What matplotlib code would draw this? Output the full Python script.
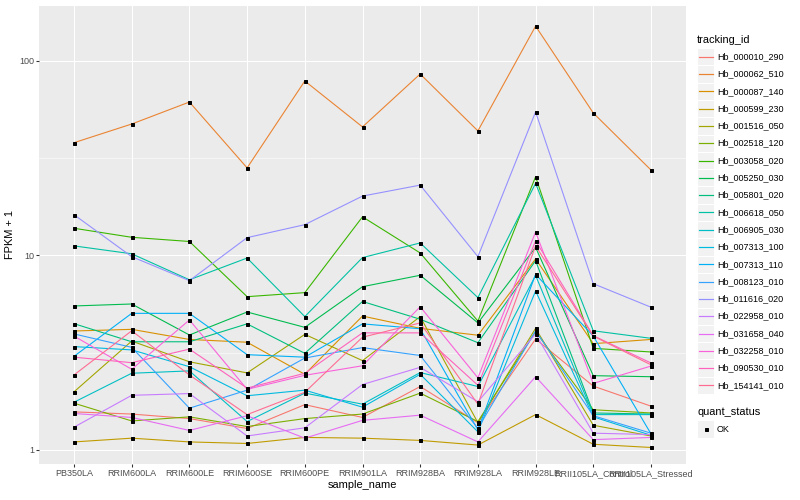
import matplotlib
matplotlib.use("Agg")
import matplotlib.pyplot as plt
from matplotlib.patches import Rectangle
from matplotlib.lines import Line2D
from matplotlib.ticker import FixedLocator, NullFormatter

plt.rcParams['font.family'] = ['Liberation Sans', 'DejaVu Sans']

samples = ["PB350LA", "RRIM600LA", "RRIM600LE", "RRIM600SE", "RRIM600PE", "RRIM901LA",
           "RRIM928BA", "RRIM928LA", "RRIM928LE", "RRII105LA_Control", "RRII105LA_Stressed"]

tracking_ids = ["Hb_000010_290", "Hb_000062_510", "Hb_000087_140", "Hb_000599_230",
                "Hb_001516_050", "Hb_002518_120", "Hb_003058_020", "Hb_005250_030",
                "Hb_005801_020", "Hb_006618_050", "Hb_006905_030", "Hb_007313_100",
                "Hb_007313_110", "Hb_008123_010", "Hb_011616_020", "Hb_022958_010",
                "Hb_031658_040", "Hb_032258_010", "Hb_090530_010", "Hb_154141_010"]

# ggplot hue palette, 20 levels
colors = ["#F8766D", "#EA8331", "#D89000", "#C09B00", "#A3A500", "#7CAE00", "#39B600",
          "#00BB4E", "#00BF7D", "#00C1A3", "#00BFC4", "#00BAE0", "#00B0F6", "#35A2FF",
          "#9590FF", "#C77CFF", "#E76BF3", "#FA62DB", "#FF62BC", "#FF6C91"]

# FPKM + 1 (order = samples)
hb_000010_290 = [1.57, 1.53, 1.45, 1.29, 1.71, 1.47, 2.12, 1.38, 3.72, 2.13, 1.68]
hb_000062_510 = [38, 47.4, 61.5, 28.2, 78.9, 45.8, 85.7, 43.7, 151, 54, 27.5]
hb_000087_140 = [4.09, 4.17, 3.7, 3.58, 2.45, 4.88, 4.22, 3.89, 9.6, 3.52, 3.7]
hb_000599_230 = [1.10, 1.15, 1.10, 1.08, 1.16, 1.15, 1.12, 1.06, 1.52, 1.07, 1.03]
hb_001516_050 = [1.99, 3.63, 2.84, 2.49, 3.93, 2.88, 4.85, 1.38, 4.22, 1.34, 1.18]
hb_002518_120 = [1.74, 1.41, 1.48, 1.32, 1.45, 1.53, 1.96, 1.40, 4.06, 1.61, 1.55]
hb_003058_020 = [13.8, 12.4, 11.8, 6.14, 6.44, 15.8, 10.3, 4.6, 25.4, 3.33, 3.19]
hb_005250_030 = [5.5, 5.63, 3.9, 5.12, 4.27, 6.91, 7.91, 4.5, 11.0, 2.41, 2.38]
hb_005801_020 = [4.46, 3.6, 3.6, 4.45, 3.14, 5.8, 4.7, 3.56, 9.4, 1.55, 1.53]
hb_006618_050 = [11.2, 10.2, 7.5, 9.7, 4.85, 9.75, 11.6, 6.07, 23.5, 4.1, 3.75]
hb_006905_030 = [1.76, 2.48, 2.55, 1.40, 1.96, 1.72, 2.5, 2.12, 7.9, 1.52, 1.52]
hb_007313_100 = [3.4, 3.27, 2.68, 1.9, 2.03, 1.66, 2.45, 1.24, 6.57, 1.48, 1.19]
hb_007313_110 = [3.03, 5.04, 5.04, 3.09, 3.0, 4.45, 4.2, 1.27, 8.0, 3.85, 1.21]
hb_008123_010 = [3.95, 3.37, 1.64, 2.03, 2.97, 3.36, 3.06, 1.29, 4.1, 1.5, 1.22]
hb_011616_020 = [16.2, 9.86, 7.42, 12.35, 14.4, 20.2, 23.0, 9.86, 54.7, 7.16, 5.42]
hb_022958_010 = [1.31, 1.91, 1.95, 1.18, 1.30, 2.17, 2.66, 1.77, 3.95, 1.22, 1.2]
hb_031658_040 = [1.54, 1.47, 1.26, 1.50, 1.15, 1.42, 1.51, 1.10, 2.38, 1.13, 1.16]
hb_032258_010 = [3.85, 2.6, 4.66, 2.05, 2.42, 2.71, 5.45, 2.35, 13.2, 2.2, 2.7]
hb_090530_010 = [3.0, 2.81, 3.3, 2.08, 2.48, 4.0, 4.0, 2.15, 11.9, 3.87, 2.8]
hb_154141_010 = [2.43, 4.1, 2.43, 1.52, 1.98, 3.8, 4.5, 1.72, 11.2, 3.85, 2.74]

series = [hb_000010_290, hb_000062_510, hb_000087_140, hb_000599_230, hb_001516_050,
          hb_002518_120, hb_003058_020, hb_005250_030, hb_005801_020, hb_006618_050,
          hb_006905_030, hb_007313_100, hb_007313_110, hb_008123_010, hb_011616_020,
          hb_022958_010, hb_031658_040, hb_032258_010, hb_090530_010, hb_154141_010]

W, H = 800, 500
fig = plt.figure(figsize=(W / 72, H / 72), dpi=72)
ax = fig.add_axes([39.4 / W, 1 - 464 / H, (685.6 - 39.4) / W, (464 - 5.5) / H])
ax.set_facecolor("#EBEBEB")
for s in ax.spines.values():
    s.set_visible(False)

xs = list(range(1, len(samples) + 1))
for vals, col in zip(series, colors):
    ax.plot(xs, vals, color=col, lw=1.1, zorder=3)
for vals in series:
    ax.plot(xs, vals, ls="none", marker="s", ms=3.0, color="black", zorder=4)

ax.set_yscale("log")
ax.set_ylim(0.847, 192.8)
ax.set_xlim(0.4, 11.6)
ax.yaxis.set_major_locator(FixedLocator([1, 10, 100]))
ax.set_yticklabels(["1", "10", "100"])
ax.yaxis.set_minor_locator(FixedLocator([10 ** 0.5, 10 ** 1.5]))
ax.yaxis.set_minor_formatter(NullFormatter())
ax.set_xticks(xs)
ax.set_xticklabels(samples)
ax.grid(which="major", color="white", lw=1.07, zorder=0)
ax.grid(which="minor", axis="y", color="white", lw=0.55, zorder=0)
ax.set_axisbelow(True)
ax.tick_params(which="major", length=2.75, width=1.07, color="#333333",
               labelsize=9, labelcolor="#4D4D4D", pad=2.2)
ax.tick_params(which="minor", length=0)
ax.set_xlabel("sample_name", fontsize=11, labelpad=2.5)
ax.set_ylabel("FPKM + 1", fontsize=11, labelpad=4)

# legend drawn by hand, ggplot style
def fx(x):
    return x / W

def fy(y):
    return 1 - y / H

fig.text(fx(697), fy(40), "tracking_id", fontsize=11, va="center", ha="left")
key = 17.3
for i, (name, col) in enumerate(zip(tracking_ids, colors)):
    yc = 56.7 + key * i
    fig.add_artist(Rectangle((fx(697), fy(yc + key / 2)), key / W, key / H,
                             transform=fig.transFigure, facecolor="#F2F2F2",
                             edgecolor="white", lw=1, zorder=1))
    fig.add_artist(Line2D([fx(698.5), fx(712.5)], [fy(yc), fy(yc)],
                          transform=fig.transFigure, color=col, lw=1.2, zorder=5))
    fig.text(fx(717), fy(yc), name, fontsize=9, va="center", ha="left")

fig.text(fx(697), fy(412), "quant_status", fontsize=11, va="center", ha="left")
fig.add_artist(Rectangle((fx(697), fy(429 + key / 2)), key / W, key / H,
                         transform=fig.transFigure, facecolor="#F2F2F2",
                         edgecolor="white", lw=1, zorder=1))
fig.add_artist(Line2D([fx(705.6)], [fy(429)], transform=fig.transFigure,
                      ls="none", marker="s", ms=3.0, color="black", zorder=5))
fig.text(fx(717), fy(429), "OK", fontsize=9, va="center", ha="left")

fig.savefig("out.png", dpi=72)
